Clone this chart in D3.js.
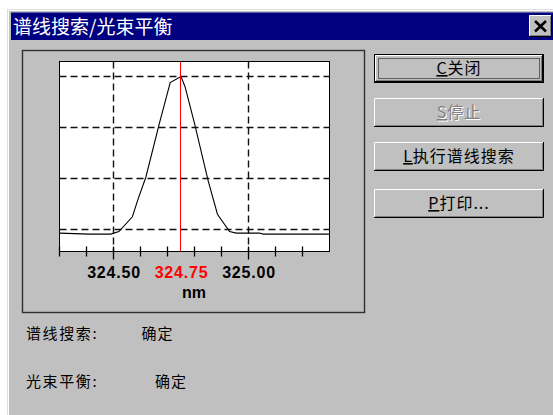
<!DOCTYPE html>
<html><head><meta charset="utf-8">
<script src="https://cdn.jsdelivr.net/npm/d3@7"></script>
<style>html,body{margin:0;padding:0;background:#fff;overflow:hidden}</style>
</head><body><svg id="c" width="553" height="415"></svg>
<script>
// ---- data ----
const wavelengths = [324.30, 324.41, 324.49, 324.52, 324.57, 324.59, 324.62, 324.67, 324.71, 324.75, 324.765, 324.80, 324.85, 324.885, 324.93, 324.955, 325.04, 325.055, 325.30];
const signal      = [-0.07, -0.09, -0.09, -0.04, 0.25, 0.58, 1.03, 2.08, 2.88, 3.00, 2.80, 2.08, 0.97, 0.30, -0.04, -0.07, -0.07, -0.09, -0.09];
const xTickValues = [324.3, 324.4, 324.5, 324.6, 324.7, 324.8, 324.9, 325.0, 325.1, 325.2];
const xMajorValues = [324.5, 325.0];
const xLabelValues = [324.50, 324.75, 325.00];
const yGridValues = [0, 1, 2, 3];
const peakWavelength = 324.75;
const xUnit = "nm";
const titleText = "谱线搜索/光束平衡";
const buttonLabels = ["C关闭", "S停止", "L执行谱线搜索", "P打印..."];
const statusLabels = ["谱线搜索:", "光束平衡:"];
const statusValues = ["确定", "确定"];

// ---- drawing ----
const svg = d3.select("#c");
const CJK = "'Noto Sans CJK SC','Noto Sans',sans-serif";

// window
svg.append("rect").attr("x",7).attr("y",9).attr("width",560).attr("height",420).attr("fill","#c0c0c0");
svg.append("path").attr("d","M7.5,420V9.5H560").attr("stroke","#dfdfdf").attr("fill","none");
svg.append("path").attr("d","M8.5,420V10.5H560").attr("stroke","#ffffff").attr("fill","none");
// title bar
svg.append("rect").attr("x",11).attr("y",12.5).attr("width",550).attr("height",27.5).attr("fill","#000080");
svg.append("text").attr("x",13).attr("y",33.5).attr("fill","#fff")
  .style("font-family",CJK).style("font-size","19px").text(titleText);
// close button
const cb = svg.append("g");
cb.append("rect").attr("x",529).attr("y",15.5).attr("width",22).attr("height",21).attr("fill","#c0c0c0");
cb.append("path").attr("d","M529.5,36V15.5H551").attr("stroke","#fff").attr("fill","none");
cb.append("path").attr("d","M529,36.5H551.5V15").attr("stroke","#000").attr("fill","none");
cb.append("path").attr("d","M530,35.5H550.5V16").attr("stroke","#808080").attr("fill","none");
cb.append("path").attr("d","M535,21L546,31.5M546,21L535,31.5").attr("stroke","#000").attr("stroke-width",2.6);

// group box
svg.append("rect").attr("x",22.5).attr("y",50.5).attr("width",342).attr("height",262)
  .attr("fill","none").attr("stroke","#303030").attr("stroke-width",1.4);

// plot
const L=59.5, R=329.5, T=61.5, B=251.5;
const x = d3.scaleLinear().domain([324.3, 325.3]).range([L, R]);
const y = d3.scaleLinear().domain([-0.431, 3.294]).range([B, T]);
const snap = v => Math.floor(v) + 0.5;

svg.append("rect").attr("x",L).attr("y",T).attr("width",R-L).attr("height",B-T).attr("fill","#fff");

const grid = svg.append("g").attr("stroke","#111").attr("stroke-width",1.4).attr("stroke-dasharray","7,4");
grid.selectAll(".h").data(yGridValues).join("line")
  .attr("x1",L).attr("x2",R).attr("y1",d=>snap(y(d))).attr("y2",d=>snap(y(d)));
grid.selectAll(".v").data(xMajorValues).join("line")
  .attr("x1",d=>snap(x(d))).attr("x2",d=>snap(x(d))).attr("y1",T).attr("y2",B);

// curve
svg.append("path").datum(wavelengths.map((w,i)=>[w,signal[i]]))
  .attr("d", d3.line().x(d=>x(d[0])).y(d=>y(d[1])))
  .attr("fill","none").attr("stroke","#000").attr("stroke-width",1.1);

// peak marker
svg.append("line").attr("x1",snap(x(peakWavelength))).attr("x2",snap(x(peakWavelength)))
  .attr("y1",T).attr("y2",B).attr("stroke","#ff0000").attr("stroke-width",1);

// frame
svg.append("rect").attr("x",L).attr("y",T).attr("width",R-L).attr("height",B-T)
  .attr("fill","none").attr("stroke","#000").attr("stroke-width",1);

// ticks axis
const axisG = svg.append("g").attr("transform",`translate(0,${B})`)
  .call(d3.axisBottom(x).tickValues(xTickValues).tickSize(5).tickFormat(""));
axisG.select(".domain").remove();
axisG.selectAll(".tick").attr("transform", d=>`translate(${snap(x(d))},0)`);
axisG.selectAll(".tick line").attr("stroke","#000").attr("stroke-width",1.3)
  .attr("y1", -5).attr("y2", d => xMajorValues.includes(d) ? 8 : 5);

// label axis
const labG = svg.append("g").attr("transform",`translate(0,${B})`)
  .call(d3.axisBottom(x).tickValues(xLabelValues).tickSize(0).tickFormat(d3.format(".2f")));
labG.select(".domain").remove();
labG.selectAll(".tick text").attr("y",26).attr("dy",0)
  .style("font-family","'Liberation Sans',Arial,sans-serif").style("font-size","16px")
  .style("font-weight","bold").style("letter-spacing","0.8px")
  .attr("fill", d => d === peakWavelength ? "#ff0000" : "#000");
svg.append("text").attr("x",x(peakWavelength)+13).attr("y",298).attr("text-anchor","middle")
  .style("font-family","'Liberation Sans',Arial,sans-serif").style("font-size","16px")
  .style("font-weight","bold").text(xUnit);

// buttons
const btnTops = [54, 98, 142, 189];
const bx = 374, bw = 170, bh = 29;
buttonLabels.forEach((lab,i)=>{
  const g = svg.append("g");
  const t = btnTops[i];
  const isDefault = i===0, disabled = i===1;
  let x0=bx, y0=t, x1=bx+bw, y1=t+bh;
  g.append("rect").attr("x",x0).attr("y",y0).attr("width",bw).attr("height",bh).attr("fill","#c0c0c0");
  if (isDefault) {
    g.append("rect").attr("x",x0+0.5).attr("y",y0+0.5).attr("width",bw-1).attr("height",bh-1)
      .attr("fill","none").attr("stroke","#000");
    x0+=1; y0+=1; x1-=1; y1-=1;
  }
  g.append("path").attr("d",`M${x0+0.5},${y1-1}V${y0+0.5}H${x1-1}`).attr("stroke","#fff").attr("fill","none");
  g.append("path").attr("d",`M${x0},${y1-0.5}H${x1-0.5}V${y0}`).attr("stroke","#000").attr("fill","none");
  g.append("path").attr("d",`M${x0+1},${y1-1.5}H${x1-1.5}V${y0+1}`).attr("stroke","#808080").attr("fill","none");
  if (isDefault) {
    g.append("rect").attr("x",x0+3.5).attr("y",y0+3.5).attr("width",(x1-x0)-7).attr("height",(y1-y0)-7)
      .attr("fill","none").attr("stroke","#000").attr("stroke-dasharray","1,1");
  }
  const cx = bx + bw/2, by = t + 20;
  const mk = (dx,dy,fill)=>{
    const tx = g.append("text").attr("x",cx+dx).attr("y",by+dy).attr("text-anchor","middle")
      .style("font-family",CJK).style("font-size","16px").style("letter-spacing","1px").attr("fill",fill);
    tx.append("tspan").style("text-decoration","underline").text(lab[0]);
    tx.append("tspan").text(lab.slice(1));
  };
  if (disabled) { mk(1,1,"#ffffff"); mk(0,0,"#808080"); }
  else mk(0,0,"#000");
});

// status lines
const rowsY = [339, 387];
const valX = [141.5, 155];
statusLabels.forEach((s,i)=>{
  svg.append("text").attr("x",26).attr("y",rowsY[i]).style("font-family",CJK)
    .style("font-size","15px").style("letter-spacing","1.6px").attr("fill","#000").text(s);
  svg.append("text").attr("x",valX[i]).attr("y",rowsY[i]).style("font-family",CJK)
    .style("font-size","15px").style("letter-spacing","1px").attr("fill","#000").text(statusValues[i]);
});
</script></body></html>
